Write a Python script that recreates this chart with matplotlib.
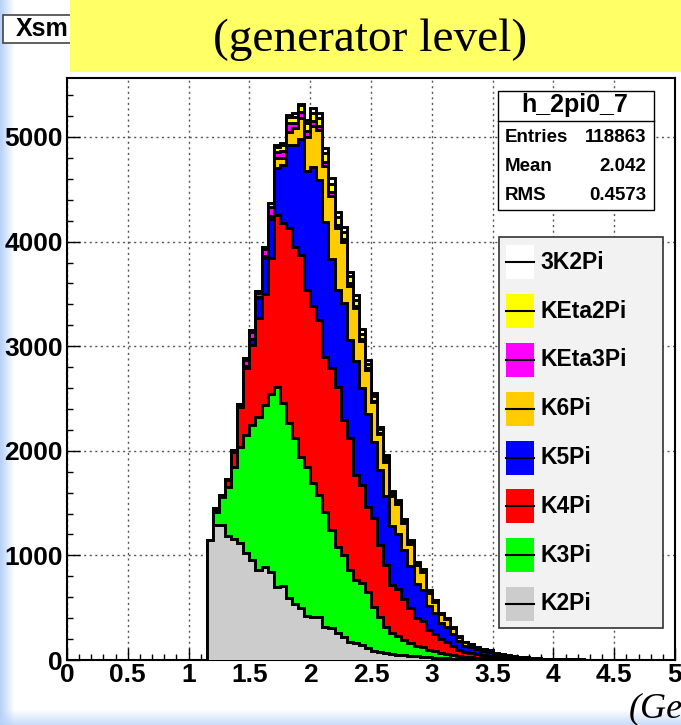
import numpy as np
import matplotlib.pyplot as plt
from matplotlib.patches import Rectangle
from matplotlib.lines import Line2D

# bins of 0.05 GeV starting at 1.15
x_start = 1.15
bin_width = 0.05

k2pi = [1147, 1291, 1291, 1185, 1153, 1115, 1020, 956, 860, 886, 844, 701, 707, 590, 535,
        494, 420, 414, 410, 319, 303, 255, 223, 175, 166, 143, 118, 86, 80, 70, 60,
        52, 45, 40, 34, 30, 25, 22, 18, 15, 12, 10, 8, 7, 6, 5, 4, 3, 2, 2, 1,
        1, 1, 1, 0, 0, 0, 0, 0, 0, 0, 0, 0, 0, 0, 0, 0, 0, 0, 0]
k3pi = [0, 127, 270, 466, 695, 924, 1131, 1291, 1466, 1552, 1699, 1912, 1747, 1673, 1584,
        1450, 1428, 1275, 1167, 1099, 940, 828, 781, 685, 599, 590, 535, 424, 334, 249, 195,
        180, 150, 125, 100, 90, 70, 60, 48, 42, 32, 24, 19, 17, 14, 11, 9, 7, 5, 4, 3,
        3, 2, 2, 2, 1, 1, 1, 1, 1, 1, 0, 0, 0, 0, 0, 0, 0, 0, 0]
k4pi = [0, 15, 10, 69, 143, 383, 638, 764, 940, 1061, 1297, 1641, 1721, 1864, 1832,
        1928, 1689, 1695, 1673, 1482, 1546, 1530, 1290, 1260, 1004, 940, 813, 845, 685, 589, 465,
        450, 390, 330, 270, 250, 190, 165, 130, 115, 90, 65, 50, 45, 37, 31, 27, 20, 16, 13, 11,
        9, 8, 6, 5, 4, 4, 3, 2, 2, 2, 2, 1, 1, 1, 1, 1, 0, 0, 0]
k5pi = [0, 5, 0, 2, 4, 10, 21, 55, 192, 341, 373, 446, 557, 797, 973,
        1113, 1136, 1325, 1336, 1284, 1046, 923, 1119, 937, 1085, 926, 882, 727, 717, 657, 557,
        520, 470, 400, 320, 300, 230, 200, 155, 140, 110, 78, 60, 55, 45, 37, 32, 24, 19, 15, 13,
        11, 9, 7, 6, 5, 4, 4, 3, 3, 2, 2, 2, 1, 1, 1, 1, 1, 1, 1]
k6pi = [0, 0, 0, 0, 0, 0, 0, 5, 10, 22, 32, 96, 68, 127, 160,
        200, 330, 400, 480, 540, 600, 590, 580, 520, 510, 450, 420, 380, 340, 330, 290,
        285, 255, 215, 185, 170, 130, 112, 88, 80, 60, 42, 33, 28, 22, 20, 17, 12, 10, 8, 7,
        6, 5, 4, 4, 3, 3, 2, 2, 1, 1, 1, 1, 1, 1, 0, 0, 0, 0, 0]
keta3pi = [0, 10, 6, 5, 10, 15, 58, 63, 41, 64, 89, 64, 70, 80, 48,
           50, 50, 45, 40, 40, 40, 35, 30, 30, 25, 22, 20, 18, 15, 13, 10,
           9, 8, 7, 6, 5, 4, 4, 3, 3, 2, 2, 1, 1, 1, 1, 1, 1, 0, 0, 0,
           0, 0, 0, 0, 0, 0, 0, 0, 0, 0, 0, 0, 0, 0, 0, 0, 0, 0, 0]
keta2pi = [0, 3, 0, 2, 6, 2, 20, 25, 20, 25, 33, 48, 55, 63, 63,
           70, 80, 80, 75, 80, 80, 75, 70, 60, 55, 50, 45, 40, 35, 30, 25,
           22, 20, 17, 14, 13, 10, 8, 6, 6, 4, 3, 3, 2, 2, 2, 1, 1, 1, 1, 1,
           0, 0, 0, 0, 0, 0, 0, 0, 0, 0, 0, 0, 0, 0, 0, 0, 0, 0, 0]
k3k2pi = [0, 0, 0, 0, 0, 0, 0, 0, 0, 0, 0, 16, 15, 16, 30,
          10, 30, 40, 45, 48, 50, 50, 50, 45, 45, 40, 35, 30, 25, 22, 18,
          16, 14, 12, 10, 9, 7, 6, 5, 4, 3, 3, 2, 2, 2, 1, 1, 1, 1, 1, 0,
          0, 0, 0, 0, 0, 0, 0, 0, 0, 0, 0, 0, 0, 0, 0, 0, 0, 0, 0]

names = ["K2Pi", "K3Pi", "K4Pi", "K5Pi", "K6Pi", "KEta3Pi", "KEta2Pi", "3K2Pi"]
colors = ["#cccccc", "#00ff00", "#ff0000", "#0000ff", "#ffcc00", "#ff00ff", "#ffff00", "#ffffff"]

xticks = [0, 0.5, 1, 1.5, 2, 2.5, 3, 3.5, 4, 4.5, 5]
xticklabels = ["0", "0.5", "1", "1.5", "2", "2.5", "3", "3.5", "4", "4.5", "5"]
yticks = [0, 1000, 2000, 3000, 4000, 5000]

stats = [("Entries", "118863"), ("Mean", "2.042"), ("RMS", "0.4573")]

W, H = 681, 725
fig = plt.figure(figsize=(W / 100, H / 100), dpi=100)
SANS = "Liberation Sans"
SERIF = "Liberation Serif"


def fx(px):
    return px / W


def fy(py):
    return 1 - py / H


# slide background: light blue fade on the left and bottom edges
bg = fig.add_axes([0, 0, 1, 1], zorder=-10)
img = np.ones((H, W, 3))
blue = np.array([0.72, 0.82, 0.97])
for i in range(14):
    t = 1 - i / 14
    img[:, i] = img[:, i] * (1 - t) + blue * t
for j in range(16):
    t = (j / 16) * 0.8
    row = H - 16 + j
    img[row] = img[row] * (1 - t) + blue * t
bg.imshow(img, aspect="auto", extent=[0, 1, 0, 1])
bg.set_axis_off()

ax = fig.add_axes([fx(67), fy(660), (675 - 67) / W, (660 - 78) / H])

data = np.array([k2pi, k3pi, k4pi, k5pi, k6pi, keta3pi, keta2pi, k3k2pi], dtype=float)
cum = np.cumsum(data, axis=0)
edges = x_start + bin_width * np.arange(data.shape[1] + 1)

for i in reversed(range(len(names))):
    z = 3 + (len(names) - i) * 0.1
    ax.stairs(cum[i], edges, baseline=0, fill=True, color=colors[i], zorder=z)
    ax.stairs(cum[i], edges, baseline=0, color="black", lw=2.1, zorder=z + 0.05)

ax.set_xlim(0, 5)
ax.set_ylim(0, 5564)
ax.set_xticks(xticks)
ax.set_xticklabels(xticklabels)
ax.set_yticks(yticks)
ax.set_xticks(np.arange(0, 5.01, 0.1), minor=True)
ax.set_yticks(np.arange(0, 5564, 200), minor=True)
ax.grid(True, which="major", ls=(0, (1.5, 2.5)), color="#555555", lw=1)
ax.set_axisbelow(True)
ax.tick_params(which="major", direction="in", length=9, width=1, pad=3)
ax.tick_params(which="minor", direction="in", length=4.5, width=1)
ax.tick_params(axis="x", pad=2)
for lab in ax.get_xticklabels() + ax.get_yticklabels():
    lab.set_fontfamily(SANS)
    lab.set_fontweight("bold")
    lab.set_fontsize(19)
for s in ax.spines.values():
    s.set_linewidth(1.5)

# stats box
fig.patches.append(Rectangle((fx(498), fy(210)), (654 - 498) / W, (210 - 91) / H,
                             transform=fig.transFigure, facecolor="white",
                             edgecolor="black", lw=1, zorder=5))
fig.lines.append(Line2D([fx(498), fx(654)], [fy(121), fy(121)],
                        transform=fig.transFigure, color="black", lw=1, zorder=6))
fig.text(fx(575), fy(105), "h_2pi0_7", ha="center", va="center", family=SANS,
         weight="bold", fontsize=18, zorder=7)
for k, (lab, val) in enumerate(stats):
    yy = fy(137 + 29.5 * k)
    fig.text(fx(505), yy, lab, ha="left", va="center", family=SANS,
             weight="bold", fontsize=13.5, zorder=7)
    fig.text(fx(646), yy, val, ha="right", va="center", family=SANS,
             weight="bold", fontsize=13.5, zorder=7)

# legend
fig.patches.append(Rectangle((fx(499), fy(628)), (663 - 499) / W, (628 - 237) / H,
                             transform=fig.transFigure, facecolor="#f2f2f2",
                             edgecolor="#333333", lw=1.2, zorder=5))
for j, i in enumerate(reversed(range(len(names)))):
    yc = 262.3 + 48.8 * j
    fig.patches.append(Rectangle((fx(506), fy(yc + 17)), 28 / W, 34 / H,
                                 transform=fig.transFigure, facecolor=colors[i],
                                 edgecolor="none", zorder=6))
    fig.lines.append(Line2D([fx(506), fx(534)], [fy(yc), fy(yc)],
                            transform=fig.transFigure, color="black", lw=1.5, zorder=7))
    fig.text(fx(540), fy(yc), names[i], ha="left", va="center", family=SANS,
             weight="bold", fontsize=16.5, zorder=7)

# canvas title box (partly hidden)
fig.patches.append(Rectangle((fx(3), fy(43)), 80 / W, 28 / H, transform=fig.transFigure,
                             facecolor="white", edgecolor="#444444", lw=1.2, zorder=5))
fig.text(fx(16), fy(29), "Xsm", ha="left", va="center", family=SANS,
         weight="bold", fontsize=18, zorder=6)

# yellow caption box
fig.patches.append(Rectangle((fx(70), fy(72)), (W - 70) / W, 72 / H, transform=fig.transFigure,
                             facecolor="#ffff66", edgecolor="none", zorder=8))
fig.text(fx(370), fy(40), "(generator level)", ha="center", va="center", family=SERIF,
         fontsize=34, zorder=9)

# axis unit, cut at the canvas edge
fig.text(fx(629), fy(709), "(GeV)", ha="left", va="center", family=SERIF,
         style="italic", fontsize=26, zorder=9)

fig.savefig("out.png", dpi=100)
